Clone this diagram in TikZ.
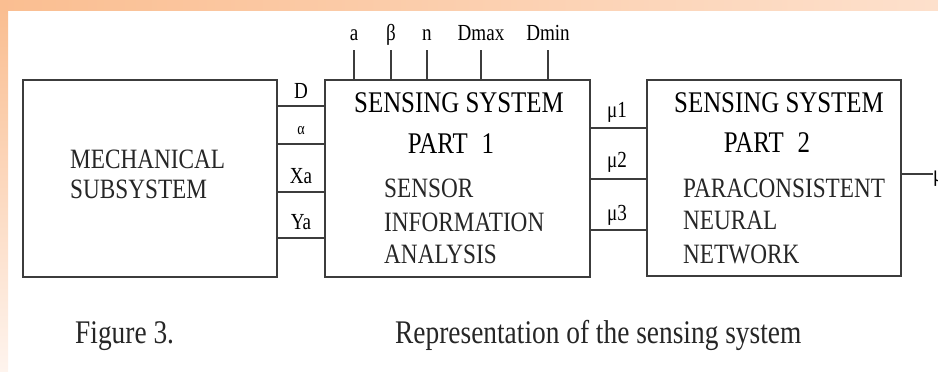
\documentclass[tikz,border=0pt]{standalone}
\usepackage{fontspec}
\setmainfont[FakeStretch=0.83]{Liberation Serif}
\usetikzlibrary{positioning,calc}
\definecolor{bgorange}{RGB}{250,190,145}
\definecolor{bgpale}{RGB}{253,224,204}
\definecolor{bgfade}{RGB}{254,244,238}
\definecolor{edgegray}{RGB}{60,60,60}
\tikzset{
  sysbox/.style={rectangle, draw=edgegray, line width=1.3pt, fill=white, inner sep=0pt},
  boxtext/.style={font=\fontsize{28}{31}\selectfont, text=black!85, inner sep=0pt, anchor=base west},
  boxtitle/.style={font=\fontsize{30}{33}\selectfont, inner sep=0pt, anchor=base},
  siglabel/.style={font=\fontsize{23}{25}\selectfont, inner sep=0pt, anchor=base},
  sigline/.style={draw=edgegray, line width=1.2pt},
  captext/.style={font=\fontsize{33}{36}\selectfont, text=black!85, inner sep=0pt, anchor=base west}
}

\begin{document}
\begin{tikzpicture}[x=1pt, y=-1pt]
\useasboundingbox (0,0) rectangle (938,372);
% slide background
\shade[left color=bgorange, right color=bgpale] (0,0) rectangle (938,10);
\shade[top color=bgorange, bottom color=bgfade] (0,10) rectangle (8,372);

% blocks
\node[sysbox, minimum width=254pt, minimum height=197pt] (mech) at (150,178.5) {};
\node[sysbox, minimum width=265pt, minimum height=197pt] (partone) at (457.5,178.5) {};
\node[sysbox, minimum width=254pt, minimum height=196pt] (parttwo) at (774,178) {};

% block texts
\node[boxtext] (mech1) at (70,168) {MECHANICAL};
\node[boxtext] (mech2) at (70,198) {SUBSYSTEM};
\node[boxtitle] (p1title) at (459,112) {SENSING SYSTEM};
\node[boxtitle] (p1part) at (451,153) {PART\hspace{14pt}1};
\node[boxtext] (p1a) at (384,197) {SENSOR};
\node[boxtext] (p1b) at (384,231) {INFORMATION};
\node[boxtext] (p1c) at (384,263) {ANALYSIS};
\node[boxtitle] (p2title) at (779,112) {SENSING SYSTEM};
\node[boxtitle] (p2part) at (767,152) {PART\hspace{14pt}2};
\node[boxtext] (p2a) at (683,197) {PARACONSISTENT};
\node[boxtext] (p2b) at (683,229) {NEURAL};
\node[boxtext] (p2c) at (683,263) {NETWORK};

% signals mechanical -> part 1
\foreach \y in {106,144,192,238}
  \draw[sigline] (mech.east |- 0,\y) -- (partone.west |- 0,\y);
\node[siglabel] (sD) at (301,98) {D};
\node[siglabel, font=\fontsize{17}{19}\selectfont] (salpha) at (301,134) {α};
\node[siglabel] (sXa) at (301,183) {Xa};
\node[siglabel] (sYa) at (301,229) {Ya};

% parameters into part 1
\foreach \x/\lbl [count=\i] in {354/a, 391/β, 427/n, 481/Dmax, 548/Dmin} {
  \node[siglabel] (par\i) at (\x,40) {\lbl};
  \coordinate (top\i) at (\x,50);
  \draw[sigline] (top\i) -- (top\i |- partone.north);
}

% signals part 1 -> part 2
\foreach \y in {128,179,230}
  \draw[sigline] (partone.east |- 0,\y) -- (parttwo.west |- 0,\y);
\node[siglabel] (smu1) at (617,117) {μ1};
\node[siglabel] (smu2) at (617,167) {μ2};
\node[siglabel] (smu3) at (617,220) {μ3};

% output
\coordinate (out) at (933,174);
\draw[sigline] (parttwo.east |- out) -- (out);
\node[siglabel, anchor=base west] (smu) at (933,181) {μ};

% caption
\node[captext] (fig) at (75,343) {Figure 3.};
\node[captext] (cap) at (395,343) {Representation of the sensing system};
\end{tikzpicture}
\end{document}
